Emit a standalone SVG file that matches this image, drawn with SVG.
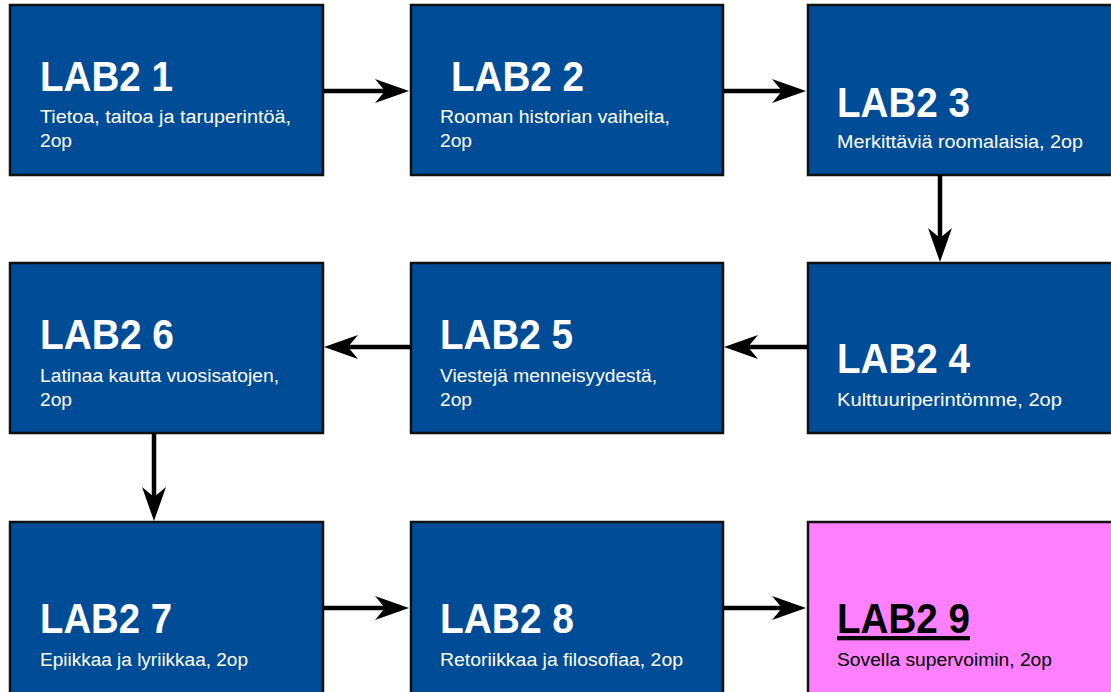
<svg xmlns="http://www.w3.org/2000/svg" width="1111" height="692" viewBox="0 0 1111 692">
<style>
.box{fill:#004C97;stroke:#111;stroke-width:2.5}
.pink{fill:#FF80FF;stroke:#111;stroke-width:2.5}
.t{font-family:"Liberation Sans",Arial,sans-serif;font-weight:bold;font-size:43px;fill:#fff}
.s{font-family:"Liberation Sans",Arial,sans-serif;font-size:18px;fill:#fff}
.dark{fill:#000}
.conn line{stroke:#000;stroke-width:4.5;fill:none;marker-end:url(#ah)}
</style>
<defs>
<marker id="ah" markerUnits="userSpaceOnUse" viewBox="0 -12 34 24" markerWidth="34" markerHeight="24" refX="10" refY="0" orient="auto">
<path d="M0,-12 L34,0 L0,12 L10,0 Z" fill="#000"/>
</marker>
</defs>
<rect width="1111" height="692" fill="#fff"/>
<g id="node1">
<rect class="box" x="10" y="5" width="313" height="170"/>
<text class="t" x="40" y="91" textLength="133" lengthAdjust="spacingAndGlyphs">LAB2 1</text>
<text class="s" x="40" y="123" textLength="251" lengthAdjust="spacingAndGlyphs">Tietoa, taitoa ja taruperintöä,</text>
<text class="s" x="40" y="147" textLength="32" lengthAdjust="spacingAndGlyphs">2op</text>
</g>
<g id="node2">
<rect class="box" x="411" y="5" width="312" height="170"/>
<text class="t" x="451" y="91" textLength="133" lengthAdjust="spacingAndGlyphs">LAB2 2</text>
<text class="s" x="440" y="123" textLength="230" lengthAdjust="spacingAndGlyphs">Rooman historian vaiheita,</text>
<text class="s" x="440" y="147" textLength="32" lengthAdjust="spacingAndGlyphs">2op</text>
</g>
<g id="node3">
<rect class="box" x="808" y="5" width="312" height="170"/>
<text class="t" x="837" y="117" textLength="133" lengthAdjust="spacingAndGlyphs">LAB2 3</text>
<text class="s" x="837" y="148" textLength="246" lengthAdjust="spacingAndGlyphs">Merkittäviä roomalaisia, 2op</text>
</g>
<g id="node4">
<rect class="box" x="808" y="263" width="312" height="170"/>
<text class="t" x="837" y="373" textLength="133" lengthAdjust="spacingAndGlyphs">LAB2 4</text>
<text class="s" x="837" y="406" textLength="225" lengthAdjust="spacingAndGlyphs">Kulttuuriperintömme, 2op</text>
</g>
<g id="node5">
<rect class="box" x="411" y="263" width="312" height="170"/>
<text class="t" x="440" y="349" textLength="133" lengthAdjust="spacingAndGlyphs">LAB2 5</text>
<text class="s" x="440" y="382" textLength="217" lengthAdjust="spacingAndGlyphs">Viestejä menneisyydestä,</text>
<text class="s" x="440" y="406" textLength="32" lengthAdjust="spacingAndGlyphs">2op</text>
</g>
<g id="node6">
<rect class="box" x="10" y="263" width="313" height="170"/>
<text class="t" x="40" y="349" textLength="134" lengthAdjust="spacingAndGlyphs">LAB2 6</text>
<text class="s" x="40" y="382" textLength="239" lengthAdjust="spacingAndGlyphs">Latinaa kautta vuosisatojen,</text>
<text class="s" x="40" y="406" textLength="32" lengthAdjust="spacingAndGlyphs">2op</text>
</g>
<g id="node7">
<rect class="box" x="10" y="522" width="313" height="180"/>
<text class="t" x="40" y="633" textLength="132" lengthAdjust="spacingAndGlyphs">LAB2 7</text>
<text class="s" x="40" y="666" textLength="208" lengthAdjust="spacingAndGlyphs">Epiikkaa ja lyriikkaa, 2op</text>
</g>
<g id="node8">
<rect class="box" x="411" y="522" width="312" height="180"/>
<text class="t" x="440" y="633" textLength="134" lengthAdjust="spacingAndGlyphs">LAB2 8</text>
<text class="s" x="440" y="666" textLength="243" lengthAdjust="spacingAndGlyphs">Retoriikkaa ja filosofiaa, 2op</text>
</g>
<g id="node9">
<rect class="pink" x="808" y="522" width="312" height="180"/>
<text class="t dark" x="837" y="633" textLength="133" lengthAdjust="spacingAndGlyphs" text-decoration="underline">LAB2 9</text>
<text class="s dark" x="837" y="666" textLength="215" lengthAdjust="spacingAndGlyphs">Sovella supervoimin, 2op</text>
</g>
<g id="connectors" class="conn">
<line x1="323" y1="91" x2="385" y2="91"/>
<line x1="723" y1="91" x2="782" y2="91"/>
<line x1="940" y1="175" x2="940" y2="238"/>
<line x1="808" y1="347" x2="748" y2="347"/>
<line x1="411" y1="347" x2="348" y2="347"/>
<line x1="154" y1="433" x2="154" y2="497"/>
<line x1="323" y1="608" x2="385" y2="608"/>
<line x1="723" y1="608" x2="782" y2="608"/>
</g>
</svg>
